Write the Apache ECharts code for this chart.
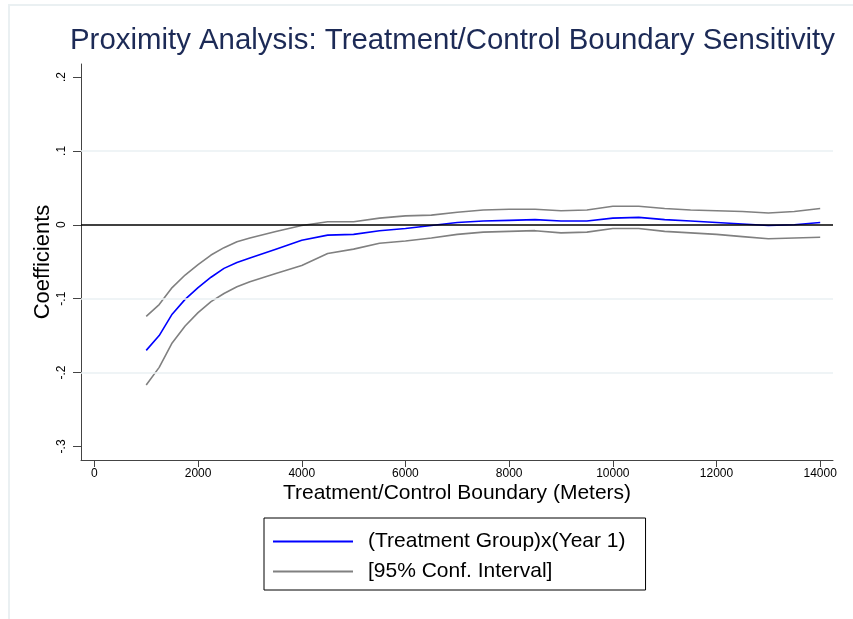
<!DOCTYPE html>
<html>
<head>
<meta charset="utf-8">
<script src="https://cdn.jsdelivr.net/npm/echarts@6/dist/echarts.min.js"></script>
<style>
html,body{margin:0;padding:0;background:#fff;}
#chart{width:853px;height:619px;}
</style>
</head>
<body>
<div id="chart"></div>
<script>
// Data
const distance = [1000,1250,1500,1750,2000,2250,2500,2750,3000,3500,4000,4500,5000,5500,6000,6500,7000,7500,8000,8500,9000,9500,10000,10500,11000,11500,12000,12500,13000,13500,14000];
const coefficient = [-0.170,-0.150,-0.121,-0.101,-0.085,-0.071,-0.059,-0.051,-0.045,-0.033,-0.021,-0.014,-0.013,-0.008,-0.005,-0.001,0.003,0.005,0.006,0.007,0.005,0.005,0.009,0.010,0.007,0.005,0.003,0.001,-0.001,0.000,0.003];
const ciUpper = [-0.124,-0.108,-0.085,-0.068,-0.054,-0.041,-0.031,-0.023,-0.018,-0.009,-0.001,0.004,0.004,0.009,0.012,0.013,0.017,0.020,0.021,0.021,0.019,0.020,0.025,0.025,0.022,0.020,0.019,0.018,0.016,0.018,0.022];
const ciLower = [-0.217,-0.193,-0.160,-0.137,-0.119,-0.104,-0.093,-0.084,-0.077,-0.066,-0.055,-0.039,-0.033,-0.025,-0.022,-0.018,-0.013,-0.010,-0.009,-0.008,-0.011,-0.010,-0.005,-0.005,-0.009,-0.011,-0.013,-0.016,-0.019,-0.018,-0.017];
const xTicks = [0,2000,4000,6000,8000,10000,12000,14000];
const yTicks = [-0.3,-0.2,-0.1,0,0.1,0.2];
const yTickLabels = {"-0.3":"-.3","-0.2":"-.2","-0.1":"-.1","0":"0","0.1":".1","0.2":".2"};
const gridValues = [-0.2,-0.1,0.1];
const refValue = 0;
const titleText = "Proximity Analysis: Treatment/Control Boundary Sensitivity";
const xName = "Treatment/Control Boundary (Meters)";
const yName = "Coefficients";
const coefName = "(Treatment Group)x(Year 1)";
const ciName = "[95% Conf. Interval]";

const font = "'Liberation Sans', Arial, sans-serif";
const pair = (xs, ys) => xs.map((x, i) => [x, ys[i]]);

const chart = echarts.init(document.getElementById('chart'), null, {renderer: 'canvas'});
chart.setOption({
  animation: false,
  backgroundColor: '#ffffff',
  textStyle: {fontFamily: font},
  graphic: [{
    type: 'rect', silent: true, z: -10,
    shape: {x: 9, y: 5, width: 900, height: 700},
    style: {fill: 'none', stroke: '#eaf0f2', lineWidth: 2}
  }],
  title: {
    text: titleText, left: 65, top: 21,
    textStyle: {fontFamily: font, fontSize: 29.4, fontWeight: 'normal', color: '#1c2a56'}
  },
  grid: {left: 81, right: 20, top: 64, bottom: 159, containLabel: false},
  legend: {
    left: 264, top: 518, orient: 'vertical',
    data: [coefName, ciName],
    icon: 'rect',
    itemWidth: 80, itemHeight: 2, itemGap: 9,
    padding: [13, 20, 8, 9],
    borderColor: '#000', borderWidth: 1, borderRadius: 0,
    textStyle: {fontFamily: font, fontSize: 21, color: '#000', padding: [0, 0, 0, 10]}
  },
  xAxis: {
    type: 'value', min: -258, max: 14247,
    name: xName, nameLocation: 'middle', nameGap: 23, nameMoveOverlap: false,
    nameTextStyle: {fontFamily: font, fontSize: 21, color: '#000'},
    axisLine: {show: true, onZero: false, lineStyle: {color: '#444', width: 1}},
    axisTick: {show: true, length: 7, customValues: xTicks, lineStyle: {color: '#444'}},
    axisLabel: {customValues: xTicks, margin: 8, fontSize: 12, color: '#000', fontFamily: font,
      formatter: v => String(v)},
    splitLine: {show: false}
  },
  yAxis: {
    type: 'value', min: -0.3184, max: 0.2176,
    name: yName, nameLocation: 'middle', nameGap: 27, nameRotate: 90, nameMoveOverlap: false,
    nameTextStyle: {fontFamily: font, fontSize: 22, color: '#000'},
    axisLine: {show: true, onZero: false, lineStyle: {color: '#444', width: 1}},
    axisTick: {show: true, length: 8, customValues: yTicks, lineStyle: {color: '#444'}},
    axisLabel: {customValues: yTicks, rotate: 90, margin: 13, fontSize: 12, color: '#000', fontFamily: font,
      formatter: v => yTickLabels[String(Math.round(v*10)/10)] ?? String(v)},
    splitLine: {show: false}
  },
  series: [
    {
      name: '__grid', type: 'line', data: [], silent: true, z: 1,
      markLine: {
        silent: true, symbol: 'none', label: {show: false},
        lineStyle: {color: '#eaf0f3', type: 'solid', width: 1.5},
        data: gridValues.map(v => ({yAxis: v}))
      }
    },
    {
      name: '__ref', type: 'line', data: [], silent: true, z: 5,
      markLine: {
        silent: true, symbol: 'none', label: {show: false},
        lineStyle: {color: '#000', type: 'solid', width: 1.6},
        data: [{yAxis: refValue}]
      }
    },
    {
      name: ciName, type: 'line', data: pair(distance, ciUpper),
      symbol: 'none', z: 3, lineStyle: {color: '#808080', width: 1.6}, itemStyle: {color: '#808080'}
    },
    {
      name: ciName, type: 'line', data: pair(distance, ciLower),
      symbol: 'none', z: 3, lineStyle: {color: '#808080', width: 1.6}, itemStyle: {color: '#808080'}
    },
    {
      name: coefName, type: 'line', data: pair(distance, coefficient),
      symbol: 'none', z: 4, lineStyle: {color: '#0000ff', width: 1.6}, itemStyle: {color: '#0000ff'}
    }
  ]
});
</script>
</body>
</html>
